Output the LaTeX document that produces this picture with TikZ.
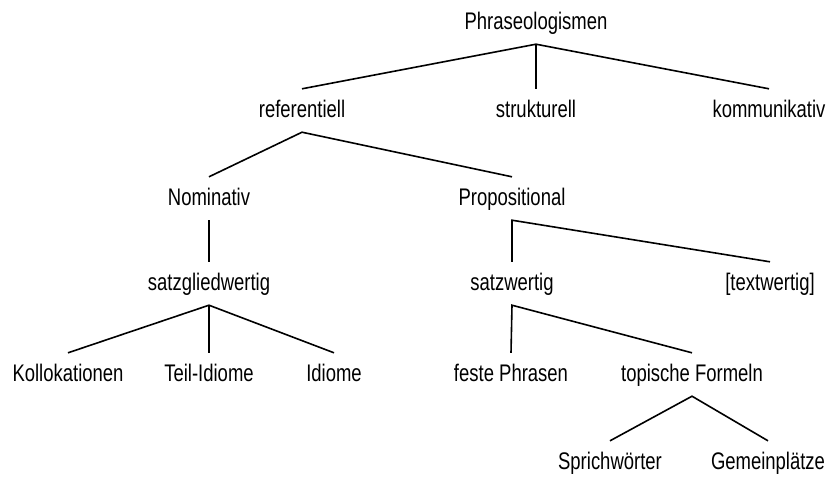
\documentclass[tikz,border=0pt]{standalone}
\usepackage{fontspec}
\setmainfont[FakeStretch=0.77]{Liberation Sans}
\begin{document}
\begin{tikzpicture}[x=1pt,y=-1pt,
  tn/.style={anchor=base, inner xsep=0pt, inner ysep=10pt, text height=18pt, text depth=5pt,
    font=\fontsize{24}{28}\selectfont},
  br/.style={draw=black, line width=1.6pt}]
\useasboundingbox (0,0) rectangle (829,483);
\node[tn] (phr) at (536,29) {Phraseologismen};
\node[tn] (ref) at (302,117) {referentiell};
\node[tn] (str) at (536,117) {strukturell};
\node[tn] (kom) at (769,117) {kommunikativ};
\node[tn] (nom) at (209,205) {Nominativ};
\node[tn] (pro) at (512,205) {Propositional};
\node[tn] (sgw) at (209,290) {satzgliedwertig};
\node[tn] (szw) at (512,290) {satzwertig};
\node[tn] (txw) at (770,290) {[textwertig]};
\node[tn] (kol) at (68,381) {Kollokationen};
\node[tn] (tid) at (209,381) {Teil-Idiome};
\node[tn] (idi) at (334,381) {Idiome};
\node[tn] (fph) at (511,381) {feste Phrasen};
\node[tn] (tfo) at (692,381) {topische Formeln};
\node[tn] (spr) at (610,469) {Sprichwörter};
\node[tn] (gem) at (768,469) {Gemeinplätze};
\draw[br] (ref.north) -- (phr.south) -- (kom.north);
\draw[br] (phr.south) -- (str.north);
\draw[br] (nom.north) -- (ref.south) -- (pro.north);
\draw[br] (nom.south) -- (sgw.north);
\draw[br] (kol.north) -- (sgw.south) -- (idi.north);
\draw[br] (sgw.south) -- (tid.north);
\draw[br] (szw.north) -- (pro.south) -- (txw.north);
\draw[br] (fph.north) -- (szw.south) -- (tfo.north);
\draw[br] (spr.north) -- (tfo.south) -- (gem.north);
\end{tikzpicture}
\end{document}
